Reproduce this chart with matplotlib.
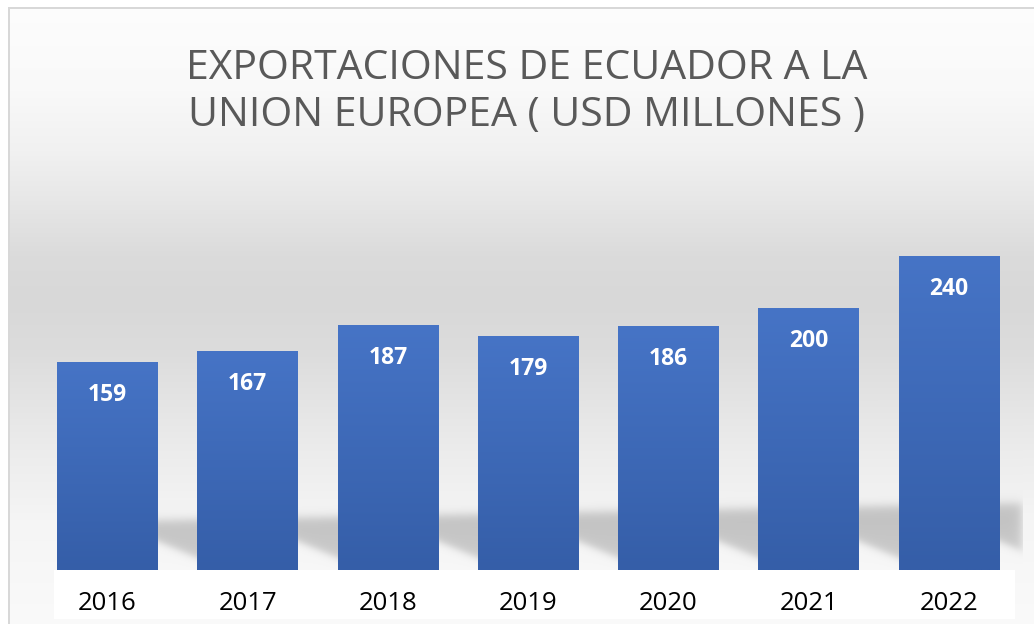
import numpy as np
import matplotlib
matplotlib.use("Agg")
import matplotlib.pyplot as plt
from matplotlib import transforms

# ---- data ----
years = ["2016", "2017", "2018", "2019", "2020", "2021", "2022"]
values = [159, 167, 187, 179, 186, 200, 240]
title_lines = ["EXPORTACIONES DE ECUADOR A LA", "UNION EUROPEA ( USD MILLONES )"]

W, H = 1034, 624
DPI = 100
fig = plt.figure(figsize=(W / DPI, H / DPI), dpi=DPI)
fig.patch.set_facecolor("white")

# main axes (bars)
ax = fig.add_axes([37.4 / W, 54 / H, 981.75 / W, 327.3 / H])
ax.patch.set_alpha(0)
ax.set_zorder(2)
bw = 0.72
x = np.arange(len(values))
bars = ax.bar(x, values, width=bw, color="#3F69B8", zorder=2)
ax.set_xlim(-0.5, len(values) - 0.5)
ax.set_ylim(0, 250)
ax.axis("off")

# per-bar vertical gradient
top_c = np.array([70, 116, 198]) / 255
bot_c = np.array([53, 94, 168]) / 255
t = np.linspace(0, 1, 256)[:, None]
grad = (top_c[None, :] * (1 - t) + bot_c[None, :] * t)[:, None, :]
for b in bars:
    x0, y0, w_, h_ = b.get_x(), b.get_y(), b.get_width(), b.get_height()
    im = ax.imshow(grad, extent=[x0, x0 + w_, y0, y0 + h_], aspect="auto",
                   origin="upper", zorder=3, interpolation="bilinear")
    im.set_clip_path(b)
ax.set_xlim(-0.5, len(values) - 0.5)
ax.set_ylim(0, 250)

fig.canvas.draw()

# ---- background image (Excel-like gradient, floor shadow) ----
def to_px(xd, yd):
    dx, dy = ax.transData.transform((xd, yd))
    return dx, H - dy

yy = np.arange(H)[:, None].astype(float)
xx = np.arange(W)[None, :].astype(float)
ys = [0, 90, 150, 200, 255, 300, 350, 400, 450, 490, 520, 624]
vs = [253, 249, 241, 231, 219, 216, 220, 228, 236, 241, 245, 250]
prof = np.interp(np.arange(H), ys, vs) / 255.0
img = np.repeat(prof[:, None], W, axis=1)

def sig(z):
    return 1 / (1 + np.exp(-z))

base_px = to_px(0, 0)[1]
rights = [to_px(b.get_x() + b.get_width(), 0)[0] for b in bars]
lefts = [to_px(b.get_x(), 0)[0] for b in bars]
shade = np.zeros((H, W))
for i, R in enumerate(rights):
    Lnext = lefts[i + 1] if i + 1 < len(lefts) else R + 22
    top = 520 - 0.02 * (xx - 160)
    bot = 541 + 0.42 * (xx - R)
    s = sig((yy - top) / 3.0) * sig((bot - yy) / 2.5)
    s = s * ((xx >= R - 1) & (xx <= Lnext + 1))
    if i + 1 == len(lefts):
        s = s * sig((Lnext - xx) / 3.0)
    shade = np.maximum(shade, s)
shade[yy[:, 0] >= base_px, :] = 0
dark = 0.765 + 0.03 * np.clip((yy - 520) / 40.0, 0, 1)
img = img * (1 - shade) + dark * shade

# white strip beneath the bars
img[int(round(base_px)):619, 54:1015] = 1.0
# border
img[:7, :] = 1.0
img[:, :8] = 1.0
img[7:9, 8:] = 0.85
img[7:, 8:10] = 0.85

rgb = np.dstack([img, img, img])
ax_bg = fig.add_axes([0, 0, 1, 1])
ax_bg.set_zorder(0)
ax_bg.imshow(rgb, extent=[0, W, H, 0], aspect="auto", interpolation="bilinear")
ax_bg.set_xlim(0, W)
ax_bg.set_ylim(H, 0)
ax_bg.axis("off")

# ---- texts ----
FONT = "Open Sans"
fig.text(527 / W, 1 - 79 / H, title_lines[0], ha="center", va="baseline",
         fontsize=29.5, color="#595959", family=FONT, zorder=5)
fig.text(527 / W, 1 - 126 / H, title_lines[1], ha="center", va="baseline",
         fontsize=29.5, color="#595959", family=FONT, zorder=5)

for b, v in zip(bars, values):
    cx = b.get_x() + b.get_width() / 2
    tr = transforms.offset_copy(ax.transData, fig=fig, x=0, y=-33, units="dots")
    ax.text(cx, v, str(v), transform=tr, ha="center", va="center",
            fontsize=16.5, fontweight="bold", color="white", family=FONT, zorder=6)

trY = transforms.offset_copy(ax.transData, fig=fig, x=0, y=-34, units="dots")
for i, yr in enumerate(years):
    ax.text(i, 0, yr, transform=trY, ha="center", va="center", fontsize=18.5,
            color="black", family=FONT, zorder=6, clip_on=False)

fig.savefig("out.png", dpi=DPI)
